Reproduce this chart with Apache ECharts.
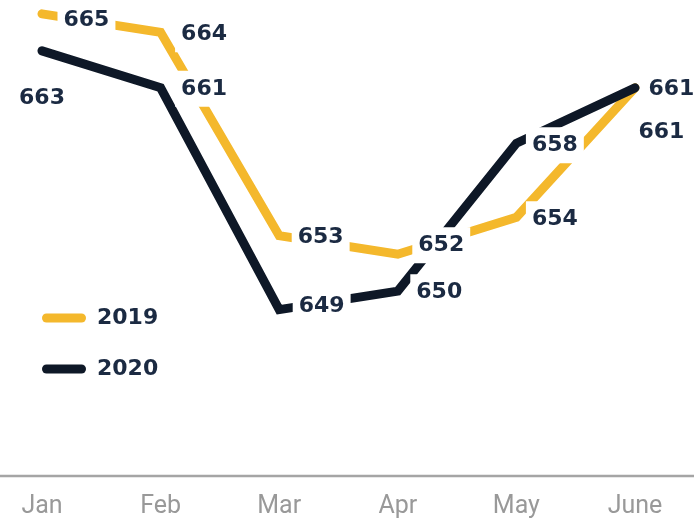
<!DOCTYPE html>
<html>
<head>
<meta charset="utf-8">
<script src="https://cdn.jsdelivr.net/npm/echarts@6/dist/echarts.min.js"></script>
<style>
html,body{margin:0;padding:0;background:#fff;}
#chart{width:696px;height:520px;}
</style>
</head>
<body>
<div id="chart"></div>
<script>
// ---- data ----
var months = ['Jan', 'Feb', 'Mar', 'Apr', 'May', 'June'];
var values2019 = [665, 664, 653, 652, 654, 661];
var values2020 = [663, 661, 649, 650, 658, 661];
var seriesNames = ['2019', '2020'];

// ---- label placement (style only) ----
var labelPlace2019 = [
  {position: 'right', offset: [3, 6]},
  {position: 'right', offset: [2, 2]},
  {position: 'right', offset: [0, 2]},
  {position: 'right', offset: [2, -9]},
  {position: 'right', offset: [-3, 2]},
  {position: 'right', offset: [-15, 44]}
];
var labelPlace2020 = [
  {position: 'bottom', offset: [0, 0]},
  {position: 'right', offset: [2, 1]},
  {position: 'right', offset: [1, -3]},
  {position: 'right', offset: [0, 1]},
  {position: 'right', offset: [-3, 2]},
  {position: 'right', offset: [-5, 1]}
];

var YELLOW = '#F4B82C';
var NAVY = '#0E1827';
var TEXT = '#1B2A42';
var FONT = 'DejaVu Sans';

function labelData(values, places) {
  return values.map(function (v, i) {
    var p = places[i];
    return {
      value: v,
      label: {
        position: p.position,
        offset: p.offset,
        distance: p.position === 'bottom' ? 29 : 12
      }
    };
  });
}

function lineSeries(name, values, color) {
  return {
    name: name,
    type: 'line',
    data: values,
    symbol: 'none',
    z: 2,
    lineStyle: {color: color, width: 9, cap: 'round', join: 'miter'},
    itemStyle: {color: color},
    emphasis: {disabled: true}
  };
}

function labelSeries(name, values, places) {
  return {
    name: name + ' labels',
    type: 'line',
    data: labelData(values, places),
    symbol: 'circle',
    symbolSize: 1,
    z: 10,
    lineStyle: {width: 0, opacity: 0},
    itemStyle: {color: 'rgba(0,0,0,0)'},
    emphasis: {disabled: true},
    label: {
      show: true,
      formatter: '{c}',
      color: TEXT,
      fontFamily: FONT,
      fontSize: 22,
      fontWeight: 'bold',
      backgroundColor: '#ffffff',
      padding: [7, 6]
    }
  };
}

var chart = echarts.init(document.getElementById('chart'), null, {renderer: 'canvas'});
chart.setOption({
  animation: false,
  backgroundColor: '#ffffff',
  grid: {left: 42, right: 61, top: 0, bottom: 44, containLabel: false},
  xAxis: {
    type: 'category',
    data: months,
    boundaryGap: false,
    axisLine: {show: false},
    axisTick: {show: false},
    splitLine: {show: false},
    axisLabel: {
      color: '#999999',
      fontFamily: 'Roboto',
      fontSize: 25,
      margin: 18
    }
  },
  yAxis: {
    type: 'value',
    min: 640,
    max: 665.75,
    show: false,
    splitLine: {show: false}
  },
  legend: {
    data: seriesNames,
    orient: 'vertical',
    left: 37,
    top: 300,
    itemWidth: 44,
    itemHeight: 9,
    itemGap: 25,
    icon: 'path://M4.5,0 L39.5,0 A4.5,4.5 0 0 1 39.5,9 L4.5,9 A4.5,4.5 0 0 1 4.5,0 Z',
    textStyle: {
      color: TEXT,
      fontFamily: FONT,
      fontSize: 22,
      fontWeight: 'bold',
      lineHeight: 26,
      padding: [0, 0, 0, 6]
    },
    selectedMode: false
  },
  graphic: [{
    type: 'line',
    shape: {x1: 0, y1: 476, x2: 694, y2: 476},
    style: {stroke: '#a5a5a5', lineWidth: 2.5},
    z: 1,
    silent: true
  }],
  series: [
    lineSeries(seriesNames[0], values2019, YELLOW),
    lineSeries(seriesNames[1], values2020, NAVY),
    labelSeries(seriesNames[0], values2019, labelPlace2019),
    labelSeries(seriesNames[1], values2020, labelPlace2020)
  ]
});
</script>
</body>
</html>
